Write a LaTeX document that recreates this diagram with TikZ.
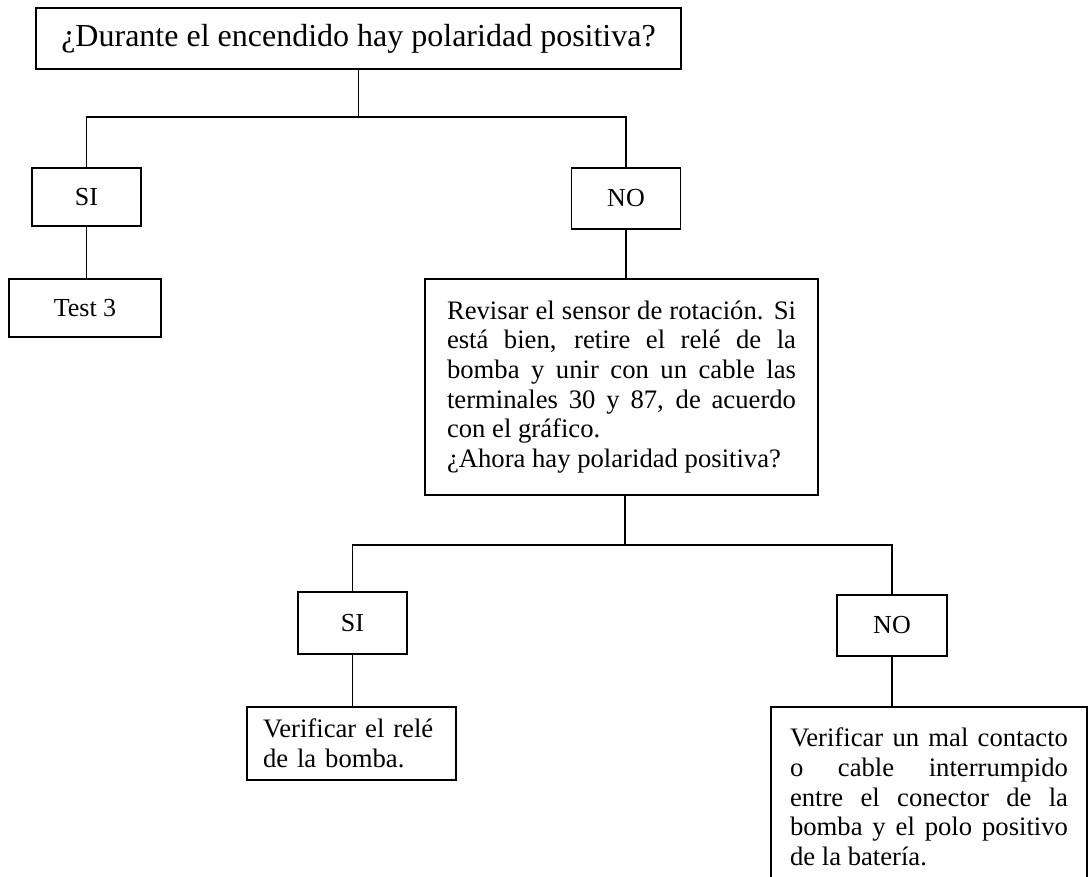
\documentclass[tikz,border=0pt]{standalone}
\usepackage{fontspec}
\setmainfont{Liberation Serif}
\newcommand\bdfont{\fontsize{20}{22.2}\selectfont\hyphenpenalty=10000\exhyphenpenalty=10000\tolerance=10000\relax}
\newcommand\ynfont{\fontsize{19.5}{23}\selectfont}
\begin{document}
\begin{tikzpicture}[x=0.75pt,y=-0.75pt,
  line width=1.3pt,
  box/.style={draw, line width=1.3pt, inner sep=0pt, align=center},
  ynbox/.style={box, font=\ynfont},
  textbox/.style={draw, line width=1.3pt, inner ysep=0pt, font=\bdfont}]
\useasboundingbox (0,0) rectangle (1091,877);

% top question
\node[box, minimum width=483.75pt, minimum height=45.75pt, font=\fontsize{24}{28}\selectfont] (top) at (358.5,38.5) {¿Durante el encendido hay polaridad positiva?};

% first level
\node[ynbox, minimum width=81.75pt, minimum height=43.5pt] (si1) at (86.5,197) {SI};
\node[ynbox, minimum width=81.75pt, minimum height=45.75pt] (no1) at (626,198.5) {NO};
\node[ynbox, minimum width=114pt, minimum height=43.5pt] (test) at (85,308) {Test 3};

\node[textbox, text width=261.75pt, inner xsep=16.5pt, minimum height=162pt, align=justify] (big) at (621.5,387)
{Revisar el sensor de rotación. Si \linebreak está bien, retire el relé de la \linebreak bomba y unir con un cable las \linebreak terminales 30 y 87, de acuerdo \linebreak con el gráfico.\par ¿Ahora hay polaridad positiva?};

% second level
\node[ynbox, minimum width=81.75pt, minimum height=46.5pt] (si2) at (352.5,623) {SI};
\node[ynbox, minimum width=82.5pt, minimum height=45.75pt] (no2) at (892,625.5) {NO};

\node[textbox, text width=132.75pt, inner xsep=12pt, minimum height=54.75pt, align=left] (rele) at (351.5,743.5)
{Verificar el relé\\de la bomba.};

\node[textbox, anchor=north, text width=208.5pt, inner xsep=14pt, minimum height=135pt, align=justify] (bat) at (929,706)
{Verificar un mal contacto \linebreak o cable interrumpido \linebreak entre el conector de la \linebreak bomba y el polo positivo \linebreak de la batería.};

% connectors
\coordinate (j1) at (358.5,117);
\coordinate (j2) at (625,545);
\draw (top.south) -- (j1);
\draw (si1.north) |- (j1) -| (no1.north);
\draw (si1.south) -- (si1.south |- test.north);
\draw (no1.south) -- (no1.south |- big.north);
\draw (big.south -| j2) -- (j2);
\draw (si2.north) |- (j2) -| (no2.north);
\draw (si2.south) -- (si2.south |- rele.north);
\draw (no2.south) -- (no2.south |- bat.north);
\end{tikzpicture}
\end{document}
